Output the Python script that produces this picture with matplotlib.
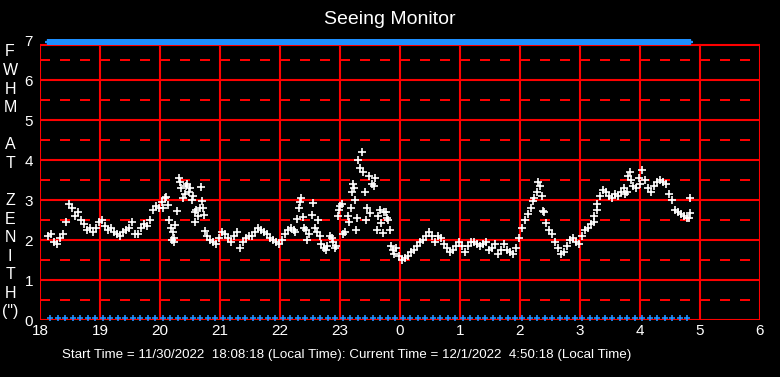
import numpy as np
import matplotlib
matplotlib.use("Agg")
import matplotlib.pyplot as plt

plt.rcParams['font.family'] = ['Liberation Sans', 'DejaVu Sans']

# seeing readings, one every 3 minutes from 18:08 (hours after 18:00 -> 18 + min/60)
start_min = 8
step_min = 3
fwhm = [
    2.1, 2.15, 1.95, 1.9, 2.05, 2.15, 2.45, 2.9, 2.8, 2.6,
    2.7, 2.5, 2.4, 2.25, 2.3, 2.2, 2.3, 2.45, 2.5, 2.35,
    2.25, 2.3, 2.2, 2.15, 2.1, 2.2, 2.25, 2.3, 2.45, 2.15,
    2.15, 2.3, 2.4, 2.35, 2.5, 2.75, 2.85, 2.8, 2.95, 3.05,
    2.88, 2.3, 2.05, 2.72, 3.45, 3.05, 3.35, 3.2, 3.0, 2.7,
    2.6, 3.33, 2.62, 2.1, 2.0, 1.95, 1.9, 2.05, 2.2, 2.15,
    2.05, 1.95, 2.1, 2.2, 1.8, 1.95, 2.05, 2.1, 2.1, 2.2,
    2.3, 2.25, 2.2, 2.15, 2.05, 2.0, 1.95, 1.9, 2.0, 2.15,
    2.25, 2.3, 2.25, 2.52, 2.95, 2.58, 2.25, 2.15, 2.62, 2.3,
    2.5, 1.9, 1.8, 1.85, 2.1, 1.95, 1.85, 2.75, 2.9, 2.2,
    2.6, 2.8, 3.3, 2.55, 3.8, 3.7, 2.5, 3.6, 3.4, 3.55,
    2.6, 2.42, 2.7, 2.55, 2.25, 1.75, 1.8, 1.6, 1.5, 1.55,
    1.6, 1.7, 1.75, 1.85, 1.95, 2.0, 2.1, 2.2, 2.1, 1.95,
    2.1, 2.05, 1.9, 1.8, 1.7, 1.75, 1.85, 1.95, 1.85, 1.7,
    1.85, 1.95, 1.95, 1.9, 1.85, 1.9, 1.95, 1.75, 1.8, 1.9,
    1.65, 1.75, 1.9, 1.75, 1.7, 1.65, 1.8, 2.05, 2.3, 2.5,
    2.65, 2.8, 3.05, 3.2, 3.35, 2.72, 2.42, 2.25, 2.15, 1.95,
    1.8, 1.65, 1.7, 1.85, 2.0, 2.05, 1.95, 1.9, 2.1, 2.25,
    2.3, 2.4, 2.6, 2.9, 3.1, 3.25, 3.2, 3.1, 3.05, 3.15,
    3.1, 3.2, 3.3, 3.2, 3.7, 3.35, 3.3, 3.55, 3.75, 3.5,
    3.3, 3.2, 3.35, 3.45, 3.5, 3.45, 3.4, 3.15, 3.0, 2.75,
    2.7, 2.65, 2.6, 2.55, 3.05,
]

# extra scattered readings (minutes after 18:00, value)
extra_min = [123, 126, 129, 132, 133, 134, 135, 139, 141, 145, 147, 150, 153, 155,
             156, 160, 162, 163, 165, 255, 259, 261, 264, 267, 273, 277, 280, 286,
             292, 295, 298, 300, 303, 309, 312, 313, 315, 316, 318, 322, 325, 327,
             330, 334, 337, 340, 343, 346, 348, 351, 354, 493, 498, 502, 504, 554,
             557, 585, 588, 591, 600, 649, 650]
extra_val = [2.8, 3.08, 2.5, 2.0, 2.2, 1.95, 2.37, 3.55, 3.3, 3.15, 3.4, 3.3, 3.1, 2.45,
             2.75, 2.8, 2.97, 2.8, 2.22, 2.2, 2.8, 3.05, 2.3, 2.0, 2.92, 2.2, 2.1, 1.75,
             2.05, 1.8, 2.6, 2.85, 2.15, 2.45, 3.2, 3.4, 3.0, 2.25, 4.0, 4.2, 3.2, 2.8,
             2.67, 3.35, 2.25, 2.75, 2.18, 2.7, 2.5, 1.85, 1.65, 2.97, 3.45, 3.1, 2.7, 2.45,
             2.75, 3.15, 3.6, 3.5, 3.4, 2.55, 2.67]

end_min = 650
hour_ticks = [18, 19, 20, 21, 22, 23, 24, 25, 26, 27, 28, 29, 30]
hour_labels = ['18', '19', '20', '21', '22', '23', '0', '1', '2', '3', '4', '5', '6']
y_ticks = [0, 1, 2, 3, 4, 5, 6, 7]
ylabel_chars = ['F', 'W', 'H', 'M', '', 'A', 'T', '', 'Z', 'E', 'N', 'I', 'T', 'H', '(")']

red = '#FF0000'
blue = '#1E8FFF'

t_main = 18 + (start_min + step_min * np.arange(len(fwhm))) / 60.0
t_extra = 18 + np.array(extra_min) / 60.0

fig = plt.figure(figsize=(7.8, 3.77), dpi=100, facecolor='black')
ax = fig.add_axes([40 / 780, 57 / 377, 720 / 780, 280 / 377])
ax.set_facecolor('black')
ax.set_xlim(18, 30)
ax.set_ylim(0, 7)
for s in ax.spines.values():
    s.set_visible(False)

ytop = 6.875
# grid
for h in hour_ticks:
    ax.plot([h, h], [0, ytop], color=red, lw=1.5, zorder=1)
for y in range(1, 7):
    ax.plot([18, 30], [y, y], color=red, lw=1.5, zorder=1)
for y in np.arange(0.5, 7, 1.0):
    ax.plot([18, 30], [y, y], color=red, lw=1.44, ls=(0, (5, 5)), zorder=1)
ax.plot([18, 30], [0, 0], color=red, lw=1.5, zorder=1)
ax.plot([18, 30], [ytop, ytop], color=red, lw=1.5, zorder=1)

# blue status markers
t_top = 18 + np.arange(start_min, end_min + 1) / 60.0
ax.plot(t_top, np.full(len(t_top), 6.94), ls='none', marker='+', ms=5, mew=1.6,
        color=blue, clip_on=False, zorder=3)
t_bot = 18 + np.arange(start_min + 2, end_min + 1, 7.5) / 60.0
ax.plot(t_bot, np.full(len(t_bot), 0.06), ls='none', marker='+', ms=5, mew=1.2,
        color=blue, clip_on=False, zorder=3)

# seeing data
ax.plot(t_main, fwhm, ls='none', marker='+', ms=5.2, mew=1.2, color='white', zorder=4)
ax.plot(t_extra, extra_val, ls='none', marker='+', ms=5.2, mew=1.2, color='white', zorder=4)

ax.set_xticks(hour_ticks)
ax.set_xticklabels(hour_labels)
ax.set_yticks(y_ticks)
ax.tick_params(length=0, colors='white', labelsize=11)
ax.tick_params(axis='x', pad=3)
ax.tick_params(axis='y', pad=5)

for i, ch in enumerate(ylabel_chars):
    fig.text(10 / 780, 1 - (52 + i * 18.57) / 377, ch, color='white', fontsize=11.5,
             ha='center', va='center')

fig.text(0.5, 1 - 20 / 377, 'Seeing Monitor', color='white', fontsize=14,
         ha='center', va='center')
fig.text(62 / 780, 1 - 355 / 377,
         'Start Time = 11/30/2022  18:08:18 (Local Time): Current Time = 12/1/2022  4:50:18 (Local Time)',
         color='white', fontsize=9.6, ha='left', va='center')

fig.savefig('out.png', dpi=100, facecolor='black')
